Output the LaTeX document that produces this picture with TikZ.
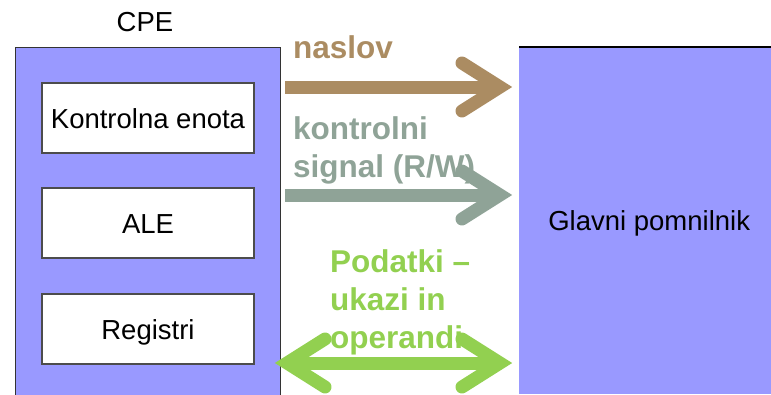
\documentclass[tikz,border=0pt]{standalone}
\usepackage{fontspec}
\setmainfont{Liberation Sans}

\definecolor{cpeblue}{HTML}{9999FF}
\definecolor{addrbrown}{HTML}{AB8C62}
\definecolor{ctrlgray}{HTML}{8FA397}
\definecolor{datagreen}{HTML}{92D050}

\tikzset{
  unitbox/.style={draw=black!70, line width=1.2pt, fill=white,
    minimum width=212, minimum height=70, inner sep=0,
    font=\fontsize{27.5}{33}\selectfont, text height=20, text depth=0},
  buslbl/.style={font=\bfseries\fontsize{31.5}{38}\selectfont,
    align=left, inner sep=0, anchor=north west},
  shaft/.style={line width=13pt},
  barb/.style={line width=13pt, line cap=round, line join=miter}
}

\begin{document}
\begin{tikzpicture}[x=1pt, y=-1pt]
  \useasboundingbox (0,0) rectangle (771,394);
  \clip (0,0) rectangle (771,394);

  % CPU with its parts
  \node[draw=black!80, line width=1.2pt, fill=cpeblue, anchor=north west,
    minimum width=265, minimum height=360, inner sep=0] (cpe) at (15,47) {};
  \node[font=\fontsize{27.5}{33}\selectfont, inner sep=0] (cpelbl) at (145,22) {CPE};
  \node[unitbox] (ku) at (148,118) {Kontrolna enota};
  \node[unitbox] (ale) at (148,223) {ALE};
  \node[unitbox] (reg) at (148,329) {Registri};

  % main memory
  \node[fill=cpeblue, anchor=north west, minimum width=260, minimum height=347,
    inner sep=0, font=\fontsize{27.5}{33}\selectfont, text height=20, text depth=0]
    (mem) at (519,47) {Glavni pomnilnik};
  \draw[line width=1.2pt] (mem.north west) -- (mem.north east);

  % bus labels
  \node[buslbl, text=addrbrown] (naslov) at (293,35) {naslov};
  \node[buslbl, text=ctrlgray] (ctrl) at (293,116) {kontrolni\\signal (R/W)};
  \node[buslbl, text=datagreen] (data) at (330,249) {Podatki --\\ukazi in\\operandi};

  % address bus
  \coordinate (nS) at (285,87);
  \coordinate (nV) at (500,87);
  \draw[shaft, addrbrown] (nS) -- (nV);
  \draw[barb, addrbrown] (nV) ++(-38,-24) -- (nV) -- ++(-38,24);

  % control signal
  \coordinate (kS) at (285,195);
  \coordinate (kV) at (500,195);
  \draw[shaft, ctrlgray] (kS) -- (kV);
  \draw[barb, ctrlgray] (kV) ++(-38,-24) -- (kV) -- ++(-38,24);

  % data, both ways
  \coordinate (pL) at (287,363);
  \coordinate (pR) at (500,363);
  \draw[shaft, datagreen] (pL) -- (pR);
  \draw[barb, datagreen] (pR) ++(-38,-24) -- (pR) -- ++(-38,24);
  \draw[barb, datagreen] (pL) ++(38,-24) -- (pL) -- ++(38,24);
\end{tikzpicture}
\end{document}
